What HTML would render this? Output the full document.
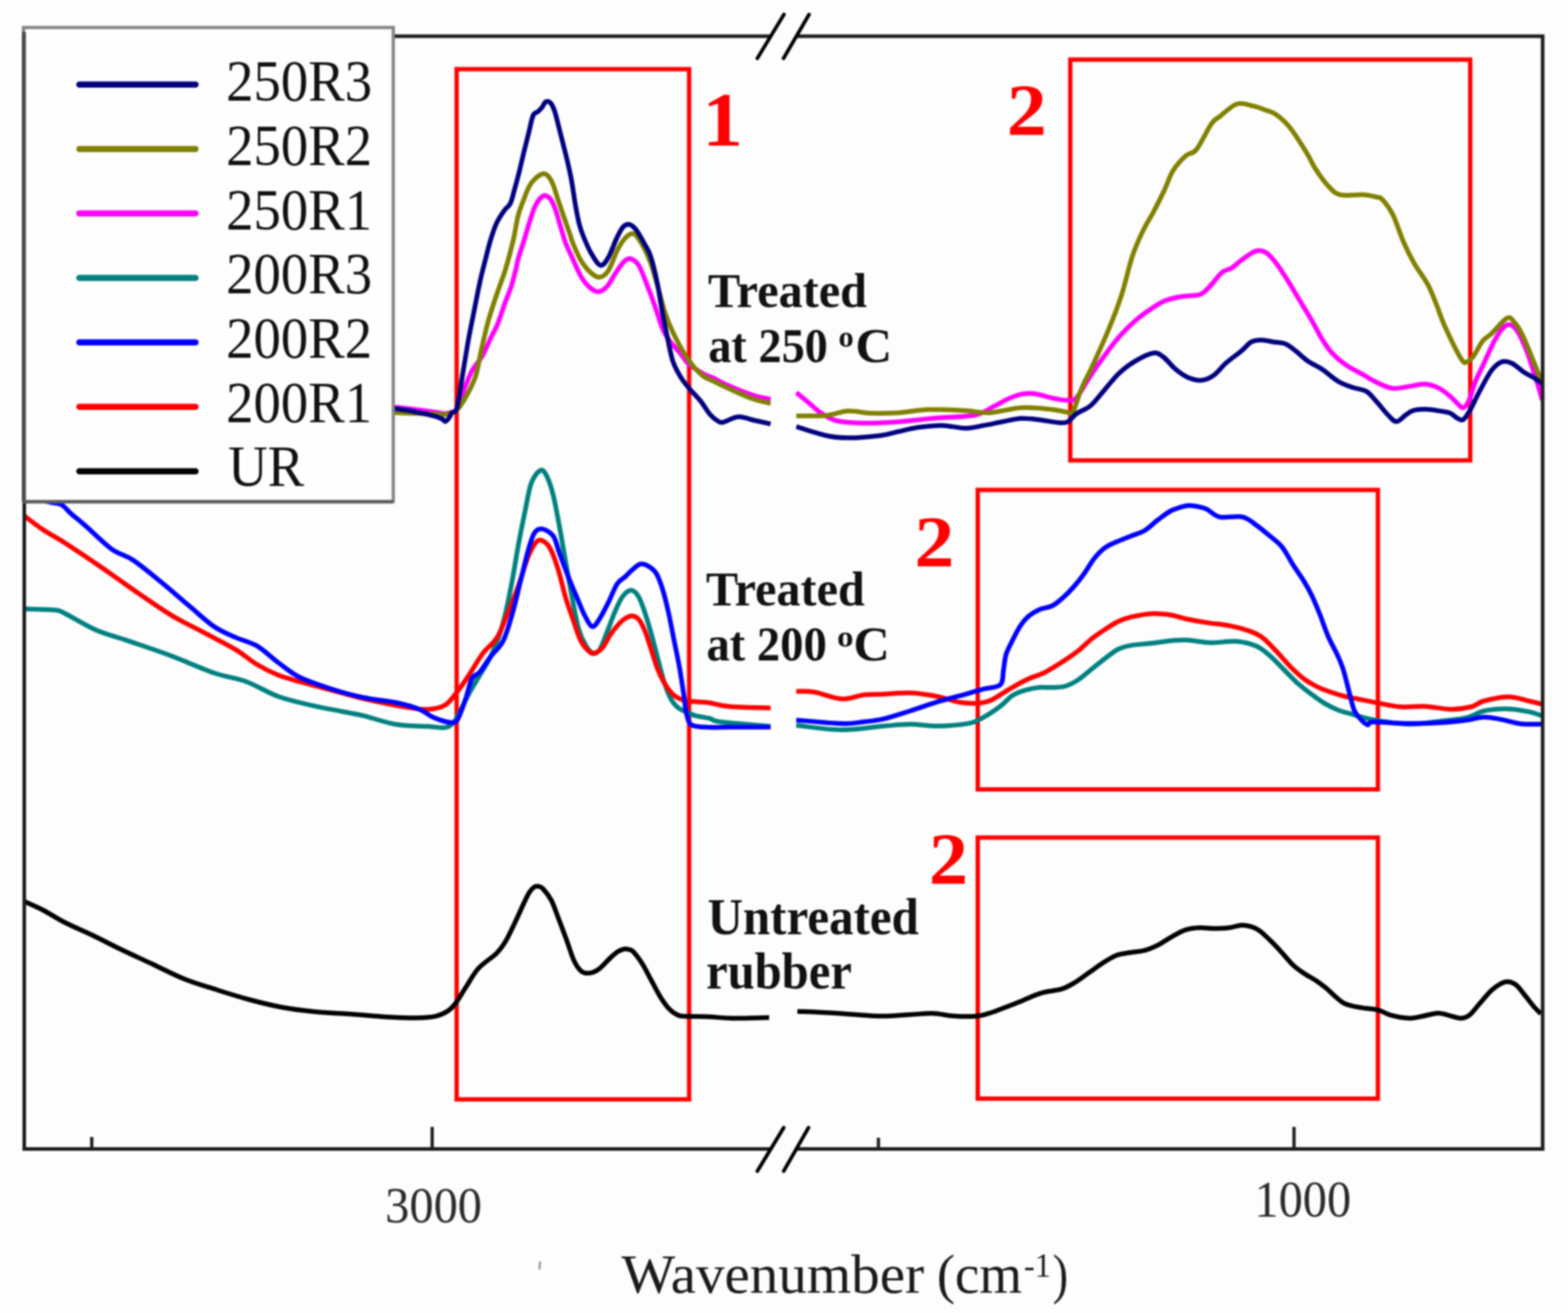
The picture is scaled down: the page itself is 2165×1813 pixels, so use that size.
<!DOCTYPE html>
<html><head><meta charset="utf-8"><title>FTIR spectra</title>
<style>
html,body{margin:0;padding:0;background:#fff;}
body{width:2165px;height:1813px;overflow:hidden;}
svg{display:block;filter:blur(0.9px);}
text{font-family:"Liberation Serif","DejaVu Serif",serif;}
</style></head><body>
<svg width="2165" height="1813" viewBox="0 0 2165 1813">
<rect x="0" y="0" width="2165" height="1813" fill="#fdfdfd"/>
<g fill="none" stroke="#ff0000" stroke-width="6">
<rect x="630.5" y="95.5" width="321" height="1422.5"/>
<rect x="1477.8" y="82.3" width="552.2" height="553.4"/>
<rect x="1350" y="676.5" width="552.5" height="413.5"/>
<rect x="1350" y="1156.5" width="552.5" height="360.5"/>
</g>
<path d="M34.0,1245.0 C38.3,1247.0 50.7,1252.2 60.0,1257.0 C69.3,1261.8 78.5,1268.2 90.0,1274.0 C101.5,1279.8 116.5,1286.0 129.0,1292.0 C141.5,1298.0 151.5,1303.5 165.0,1310.0 C178.5,1316.5 195.0,1324.0 210.0,1331.0 C225.0,1338.0 240.0,1346.0 255.0,1352.0 C270.0,1358.0 285.0,1362.2 300.0,1367.0 C315.0,1371.8 330.0,1376.5 345.0,1380.5 C360.0,1384.5 375.0,1388.2 390.0,1391.0 C405.0,1393.8 420.0,1395.5 435.0,1397.0 C450.0,1398.5 462.5,1398.8 480.0,1400.0 C497.5,1401.2 524.2,1403.6 540.0,1404.5 C555.8,1405.4 564.7,1405.7 575.0,1405.5 C585.3,1405.3 594.6,1404.7 601.9,1403.1 C609.2,1401.5 614.2,1398.8 618.7,1395.8 C623.2,1392.8 624.9,1390.9 629.1,1385.3 C633.3,1379.7 638.5,1370.3 643.8,1362.3 C649.0,1354.3 653.6,1344.8 660.6,1337.1 C667.6,1329.4 679.4,1322.5 685.7,1316.2 C692.0,1309.9 694.1,1306.4 698.3,1299.4 C702.5,1292.4 706.6,1283.0 710.8,1274.3 C715.0,1265.6 720.0,1254.0 723.4,1247.0 C726.8,1240.0 728.5,1235.8 731.0,1232.0 C733.5,1228.2 735.9,1225.8 738.1,1224.5 C740.3,1223.2 742.0,1223.5 744.0,1224.0 C746.0,1224.5 747.1,1224.3 750.0,1227.5 C752.9,1230.7 757.9,1236.9 761.1,1242.9 C764.4,1249.0 766.0,1254.7 769.5,1263.8 C773.0,1272.9 778.2,1286.8 782.1,1297.3 C786.0,1307.8 789.1,1319.4 792.6,1326.7 C796.1,1334.0 799.2,1338.5 803.0,1341.3 C806.8,1344.1 811.4,1344.1 815.6,1343.4 C819.8,1342.7 823.7,1340.6 828.2,1337.1 C832.7,1333.6 838.7,1326.3 842.8,1322.5 C846.9,1318.7 849.9,1316.0 853.0,1314.0 C856.1,1312.0 859.2,1311.0 861.7,1310.5 C864.2,1310.0 865.9,1310.4 868.0,1311.0 C870.1,1311.6 871.2,1310.8 874.3,1314.1 C877.4,1317.4 882.6,1324.2 886.8,1330.8 C891.0,1337.4 895.2,1346.2 899.4,1353.9 C903.6,1361.6 907.8,1370.3 912.0,1376.9 C916.2,1383.5 920.4,1389.5 924.6,1393.7 C928.8,1397.9 932.9,1400.5 937.1,1402.1 C941.3,1403.7 942.6,1403.1 949.7,1403.4 C956.9,1403.7 969.8,1403.5 980.0,1404.0 C990.2,1404.5 997.3,1405.9 1011.0,1406.1 C1024.7,1406.3 1053.5,1405.2 1062.0,1405.0" stroke="#000000" stroke-width="6.5" fill="none" stroke-linejoin="round" stroke-linecap="butt"/>
<path d="M1101.0,1396.4 C1109.9,1396.8 1135.2,1397.8 1154.3,1398.9 C1173.4,1400.0 1198.7,1402.7 1215.7,1403.0 C1232.8,1403.3 1244.6,1401.6 1256.6,1401.0 C1268.5,1400.4 1277.2,1399.0 1287.4,1399.3 C1297.7,1399.6 1307.9,1402.4 1318.1,1403.0 C1328.3,1403.6 1340.3,1403.8 1348.8,1403.0 C1357.3,1402.2 1364.1,1399.5 1369.3,1398.0 C1374.5,1396.5 1373.5,1396.5 1380.0,1394.0 C1386.5,1391.5 1399.1,1386.7 1408.6,1382.9 C1418.1,1379.1 1427.6,1374.3 1437.1,1371.4 C1446.6,1368.5 1457.8,1368.2 1465.7,1365.7 C1473.7,1363.2 1478.5,1360.0 1484.8,1356.2 C1491.1,1352.4 1497.4,1347.4 1503.8,1342.9 C1510.2,1338.5 1516.6,1333.5 1522.9,1329.5 C1529.2,1325.5 1535.6,1321.4 1541.9,1319.0 C1548.2,1316.6 1554.7,1316.3 1561.0,1315.2 C1567.3,1314.1 1573.7,1314.1 1580.0,1312.4 C1586.3,1310.7 1592.7,1308.0 1599.0,1304.8 C1605.3,1301.6 1611.8,1296.8 1618.1,1293.3 C1624.4,1289.8 1630.8,1285.8 1637.1,1283.8 C1643.4,1281.8 1649.8,1281.3 1656.2,1281.0 C1662.6,1280.7 1668.4,1281.9 1675.2,1281.9 C1682.0,1281.9 1690.6,1281.7 1697.1,1280.9 C1703.6,1280.2 1709.1,1277.6 1714.3,1277.4 C1719.5,1277.2 1723.8,1278.4 1728.0,1279.7 C1732.2,1281.0 1735.6,1282.7 1739.4,1285.4 C1743.2,1288.1 1747.1,1292.1 1750.9,1295.7 C1754.7,1299.3 1758.5,1303.1 1762.3,1307.1 C1766.1,1311.1 1769.9,1315.5 1773.7,1319.7 C1777.5,1323.9 1780.7,1328.3 1785.1,1332.3 C1789.5,1336.3 1794.7,1340.1 1800.0,1343.7 C1805.3,1347.3 1811.9,1350.6 1817.1,1354.0 C1822.2,1357.4 1826.5,1360.7 1830.9,1364.3 C1835.3,1367.9 1839.4,1372.3 1843.4,1375.7 C1847.4,1379.1 1850.7,1382.6 1854.9,1384.9 C1859.1,1387.2 1863.5,1388.2 1868.6,1389.4 C1873.7,1390.6 1880.0,1391.4 1885.7,1392.3 C1891.4,1393.2 1897.2,1393.0 1902.9,1394.6 C1908.6,1396.1 1912.6,1399.7 1919.8,1401.6 C1927.0,1403.5 1938.9,1405.7 1946.2,1406.0 C1953.5,1406.3 1957.3,1404.5 1963.8,1403.3 C1970.2,1402.1 1979.0,1399.2 1984.9,1398.9 C1990.8,1398.6 1993.7,1400.4 1999.0,1401.6 C2004.3,1402.8 2011.6,1406.0 2016.6,1406.0 C2021.6,1406.0 2024.6,1405.0 2029.0,1401.6 C2033.4,1398.2 2037.8,1391.6 2043.1,1385.7 C2048.4,1379.8 2054.8,1371.3 2060.7,1366.3 C2066.6,1361.3 2073.0,1357.0 2078.3,1355.8 C2083.6,1354.6 2088.0,1356.4 2092.4,1359.3 C2096.8,1362.2 2100.3,1368.1 2104.7,1373.4 C2109.1,1378.7 2115.0,1386.6 2118.8,1391.0 C2122.6,1395.4 2126.1,1398.3 2127.6,1399.8" stroke="#000000" stroke-width="6.5" fill="none" stroke-linejoin="round" stroke-linecap="butt"/>

<path d="M34.0,840.8 C40.7,841.0 65.1,841.2 74.3,842.2 C83.5,843.2 79.2,842.0 89.0,846.7 C98.8,851.4 118.5,863.9 133.3,870.3 C148.1,876.7 160.4,879.2 177.6,885.1 C194.8,891.0 217.0,898.3 236.7,905.7 C256.4,913.1 278.5,923.4 295.7,929.3 C312.9,935.2 325.2,935.8 340.0,941.2 C354.8,946.6 369.5,956.4 384.3,961.8 C399.1,967.2 413.8,970.1 428.6,973.6 C443.4,977.1 460.6,980.0 472.9,982.5 C485.2,985.0 490.1,985.4 502.4,988.4 C514.7,991.4 531.9,997.8 546.7,1000.2 C561.5,1002.7 579.7,1002.4 591.0,1003.1 C602.3,1003.8 608.8,1005.5 614.6,1004.6 C620.4,1003.8 622.7,1001.4 626.0,998.0 C629.3,994.6 630.8,990.6 634.3,984.0 C637.8,977.4 642.6,966.9 647.3,958.3 C652.0,949.7 657.4,941.0 662.4,932.4 C667.4,923.8 672.8,916.2 677.5,906.5 C682.2,896.8 686.9,884.9 690.5,874.1 C694.1,863.3 696.2,854.3 699.1,841.7 C702.0,829.1 704.9,814.0 707.8,798.5 C710.7,783.0 713.5,764.3 716.4,748.8 C719.3,733.3 722.1,719.3 725.0,705.6 C727.9,691.9 730.1,676.1 733.7,666.7 C737.3,657.3 743.0,650.8 746.6,649.4 C750.2,648.0 752.4,652.3 755.3,658.1 C758.2,663.9 761.0,672.5 763.9,684.0 C766.8,695.5 769.6,711.7 772.5,727.2 C775.4,742.7 778.3,760.7 781.2,776.9 C784.1,793.1 786.8,809.2 789.8,824.4 C792.8,839.6 795.7,857.0 798.9,868.3 C802.1,879.6 805.8,886.3 809.2,892.0 C812.7,897.7 816.4,901.6 819.6,902.3 C822.8,903.0 825.2,901.6 828.4,896.4 C831.6,891.2 835.3,879.8 838.8,871.2 C842.2,862.6 845.6,852.5 849.1,844.6 C852.6,836.7 855.8,828.8 859.5,823.9 C863.2,819.0 867.6,815.1 871.3,815.1 C875.0,815.1 878.5,818.7 881.7,823.9 C884.9,829.1 887.5,837.5 890.5,846.1 C893.5,854.7 896.4,865.1 899.4,875.7 C902.4,886.3 905.3,898.6 908.3,909.7 C911.3,920.8 914.2,933.1 917.2,942.2 C920.2,951.3 923.0,958.7 926.0,964.4 C929.0,970.1 931.7,973.2 934.9,976.2 C938.1,979.2 941.1,980.1 945.3,982.1 C949.5,984.1 954.2,986.5 960.0,988.1 C965.8,989.8 974.2,990.6 980.0,992.0 C985.8,993.4 980.8,994.9 994.8,996.7 C1008.8,998.5 1052.5,1001.9 1064.0,1002.9" stroke="#008080" stroke-width="6.5" fill="none" stroke-linejoin="round" stroke-linecap="butt"/>
<path d="M1099.4,1001.6 C1109.8,1002.6 1141.8,1007.6 1161.9,1007.8 C1182.0,1008.0 1204.1,1003.9 1220.0,1002.6 C1235.9,1001.3 1244.7,1000.1 1257.1,1000.1 C1269.5,1000.1 1280.9,1002.8 1294.3,1002.6 C1307.7,1002.4 1327.3,1000.8 1337.6,998.9 C1347.9,997.0 1349.0,995.3 1356.2,991.4 C1363.4,987.5 1374.0,980.5 1381.0,975.3 C1388.0,970.1 1392.3,963.9 1398.2,960.2 C1404.1,956.5 1410.3,954.7 1416.4,952.9 C1422.5,951.1 1428.5,949.9 1434.6,949.3 C1440.7,948.7 1446.7,949.6 1452.8,949.3 C1458.9,949.0 1464.9,949.3 1471.0,947.5 C1477.1,945.7 1483.1,942.4 1489.2,938.4 C1495.3,934.4 1501.3,928.6 1507.4,923.8 C1513.5,918.9 1519.5,913.8 1525.6,909.3 C1531.7,904.8 1537.8,899.5 1543.8,896.5 C1549.8,893.5 1554.3,892.5 1561.9,891.1 C1569.5,889.7 1580.1,889.4 1589.2,888.3 C1598.3,887.2 1608.3,885.5 1616.5,884.7 C1624.7,884.0 1629.1,883.3 1638.4,883.8 C1647.7,884.2 1661.2,887.1 1672.5,887.4 C1683.8,887.7 1696.0,884.7 1706.3,885.5 C1716.6,886.3 1726.6,888.7 1734.4,892.0 C1742.2,895.3 1746.9,899.9 1753.2,905.2 C1759.5,910.5 1765.8,917.6 1772.0,923.9 C1778.2,930.1 1784.5,937.1 1790.7,942.7 C1797.0,948.3 1803.2,953.0 1809.5,957.7 C1815.8,962.4 1822.0,967.1 1828.3,970.9 C1834.5,974.6 1840.8,977.7 1847.0,980.2 C1853.2,982.7 1858.0,983.7 1865.8,985.9 C1873.6,988.1 1880.7,991.0 1894.0,993.4 C1907.3,995.8 1929.5,999.7 1945.7,1000.0 C1961.9,1000.3 1978.1,996.9 1991.4,995.4 C2004.7,993.9 2016.2,993.2 2025.7,990.9 C2035.2,988.6 2039.1,983.7 2048.6,981.7 C2058.1,979.7 2072.4,978.7 2082.9,978.9 C2093.4,979.1 2103.6,981.3 2111.4,982.9 C2119.2,984.5 2126.6,987.6 2129.7,988.6" stroke="#008080" stroke-width="6.5" fill="none" stroke-linejoin="round" stroke-linecap="butt"/>

<path d="M34.0,712.5 C38.2,715.7 50.3,725.4 59.5,731.5 C68.7,737.6 76.7,741.3 89.0,749.2 C101.3,757.1 121.0,770.4 133.3,778.8 C145.6,787.2 153.1,792.5 162.9,799.4 C172.8,806.3 180.1,811.7 192.4,820.1 C204.7,828.5 221.9,840.8 236.7,849.6 C251.5,858.5 266.2,865.3 281.0,873.2 C295.8,881.1 312.9,889.5 325.2,896.9 C337.5,904.3 344.9,911.6 354.8,917.5 C364.7,923.4 374.5,928.3 384.3,932.3 C394.1,936.2 401.5,937.8 413.8,941.2 C426.1,944.7 443.3,949.1 458.1,953.0 C472.9,956.9 485.2,960.9 502.4,964.8 C519.6,968.7 546.6,974.1 561.4,976.6 C576.2,979.1 582.1,980.0 591.0,979.5 C599.9,979.0 607.7,977.9 614.6,973.6 C621.5,969.4 626.8,960.9 632.2,954.0 C637.7,947.1 641.5,941.0 647.3,932.4 C653.0,923.8 660.2,910.8 666.7,902.1 C673.2,893.5 680.4,889.9 686.2,880.5 C692.0,871.1 696.3,858.2 701.3,846.0 C706.3,833.8 711.7,820.1 716.4,807.1 C721.1,794.1 725.4,777.9 729.4,768.2 C733.4,758.5 737.0,752.4 740.2,748.8 C743.4,745.2 745.6,745.2 748.8,746.6 C752.0,748.0 756.0,750.9 759.6,757.4 C763.2,763.9 766.8,774.1 770.4,785.5 C774.0,796.9 777.9,814.9 781.2,826.0 C784.5,837.1 786.6,842.3 790.0,852.0 C793.4,861.7 797.7,876.2 801.5,884.0 C805.3,891.8 809.7,896.0 812.8,899.0 C815.9,902.0 816.9,902.7 820.0,902.0 C823.1,901.3 827.5,899.3 831.4,894.9 C835.3,890.5 839.2,881.4 843.2,875.7 C847.2,870.0 851.7,864.6 855.1,860.9 C858.5,857.2 861.0,855.2 863.9,853.5 C866.8,851.8 869.8,850.2 872.8,850.5 C875.8,850.8 878.8,851.5 881.7,855.0 C884.7,858.5 887.5,864.1 890.5,871.2 C893.5,878.4 896.4,889.0 899.4,897.9 C902.4,906.8 905.1,916.6 908.3,924.5 C911.5,932.4 914.9,939.3 918.6,945.2 C922.3,951.1 926.0,956.3 930.5,960.0 C935.0,963.7 940.4,965.9 945.3,967.4 C950.2,968.9 954.2,968.3 960.0,968.8 C965.8,969.3 972.1,969.4 980.0,970.5 C987.9,971.6 993.1,974.4 1007.1,975.6 C1021.1,976.8 1054.5,977.2 1064.0,977.5" stroke="#ff0000" stroke-width="6.5" fill="none" stroke-linejoin="round" stroke-linecap="butt"/>
<path d="M1099.4,954.6 C1103.6,954.8 1114.4,954.0 1124.8,955.8 C1135.2,957.5 1150.6,964.5 1161.9,965.1 C1173.2,965.7 1183.2,960.6 1192.9,959.5 C1202.6,958.4 1209.3,959.0 1220.0,958.5 C1230.7,958.0 1244.7,956.3 1257.1,956.8 C1269.5,957.3 1282.9,959.5 1294.3,961.7 C1305.7,963.9 1315.9,968.2 1325.2,969.8 C1334.5,971.3 1342.8,971.5 1350.0,971.0 C1357.2,970.5 1361.4,969.9 1368.6,966.7 C1375.8,963.5 1385.0,956.5 1393.3,951.8 C1401.5,947.0 1409.8,942.1 1418.1,938.2 C1426.4,934.3 1434.7,932.4 1442.9,928.3 C1451.2,924.2 1459.9,918.4 1467.6,913.4 C1475.3,908.4 1482.6,903.5 1489.2,898.3 C1495.8,893.1 1501.3,886.9 1507.4,882.0 C1513.5,877.1 1519.5,873.2 1525.6,869.2 C1531.7,865.2 1537.8,861.2 1543.8,858.3 C1549.8,855.4 1554.3,853.7 1561.9,851.9 C1569.5,850.1 1580.1,847.8 1589.2,847.4 C1598.3,847.0 1608.3,848.0 1616.5,849.2 C1624.7,850.4 1629.7,852.9 1638.4,854.7 C1647.1,856.5 1659.0,858.6 1668.8,860.1 C1678.5,861.6 1687.5,862.0 1696.9,863.9 C1706.3,865.8 1717.3,868.6 1725.1,871.4 C1732.9,874.2 1737.5,876.1 1743.8,880.8 C1750.0,885.5 1756.3,893.0 1762.6,899.6 C1768.9,906.2 1775.2,914.0 1781.4,920.2 C1787.7,926.5 1793.8,932.4 1800.1,937.1 C1806.3,941.8 1812.6,945.2 1818.9,948.3 C1825.2,951.4 1831.5,953.6 1837.7,955.8 C1844.0,958.0 1850.2,959.9 1856.4,961.5 C1862.7,963.1 1867.4,963.6 1875.2,965.2 C1883.0,966.8 1893.5,969.1 1903.3,970.9 C1913.1,972.7 1923.4,975.2 1934.3,976.0 C1945.2,976.8 1957.2,974.8 1968.6,975.4 C1980.0,976.0 1992.4,979.3 2002.9,979.4 C2013.4,979.5 2023.8,977.9 2031.4,976.0 C2039.0,974.1 2040.0,970.3 2048.6,968.0 C2057.2,965.7 2072.4,962.3 2082.9,962.3 C2093.4,962.3 2103.6,966.3 2111.4,968.0 C2119.2,969.7 2126.6,971.8 2129.7,972.6" stroke="#ff0000" stroke-width="6.5" fill="none" stroke-linejoin="round" stroke-linecap="butt"/>

<path d="M34.0,668.0 C37.5,671.3 49.2,683.8 55.0,688.0 C60.8,692.2 63.9,692.0 68.9,693.5 C73.9,695.0 80.0,694.3 84.9,697.0 C89.9,699.7 93.0,704.8 98.6,709.7 C104.2,714.6 109.4,718.4 118.6,726.5 C127.8,734.6 143.2,750.3 154.0,758.1 C164.8,765.9 172.2,765.8 183.5,773.3 C194.8,780.8 209.1,792.9 221.9,803.3 C234.7,813.7 248.0,825.5 260.3,835.8 C272.6,846.1 284.9,857.9 295.7,865.3 C306.5,872.7 315.3,875.7 325.2,880.1 C335.1,884.5 344.9,886.1 354.8,891.9 C364.7,897.7 374.5,907.8 384.3,915.0 C394.1,922.2 401.5,929.1 413.8,935.2 C426.1,941.3 443.3,946.8 458.1,951.5 C472.9,956.2 487.1,960.1 502.4,963.3 C517.6,966.5 536.8,968.0 549.6,970.7 C562.4,973.4 571.3,976.3 579.2,979.5 C587.1,982.7 591.4,987.2 596.9,989.9 C602.4,992.6 607.4,994.2 612.0,995.5 C616.6,996.8 621.0,998.0 624.4,997.6 C627.8,997.2 629.1,998.4 632.2,992.9 C635.3,987.4 639.8,974.2 643.0,964.8 C646.2,955.4 648.4,942.8 651.6,936.7 C654.8,930.6 658.1,933.1 662.4,928.1 C666.7,923.1 672.1,913.7 677.5,906.5 C682.9,899.3 689.8,895.0 694.8,884.9 C699.8,874.8 703.8,859.7 707.8,846.0 C711.8,832.3 715.0,817.2 718.6,802.8 C722.2,788.4 726.2,770.8 729.4,759.6 C732.6,748.4 734.8,740.7 738.0,735.8 C741.2,730.9 744.5,729.7 748.8,730.4 C753.1,731.1 759.9,734.6 763.9,740.2 C767.9,745.8 768.9,754.2 772.5,763.9 C776.1,773.6 781.4,788.0 785.5,798.5 C789.6,809.0 793.7,818.2 797.4,826.9 C801.1,835.6 804.2,844.1 807.7,850.5 C811.2,856.9 814.7,864.8 818.1,865.3 C821.5,865.8 824.7,859.2 828.4,853.5 C832.1,847.8 836.3,839.2 840.3,831.3 C844.2,823.4 848.2,812.1 852.1,806.2 C856.0,800.3 860.5,799.0 863.9,795.8 C867.3,792.6 869.3,789.8 872.8,787.0 C876.2,784.2 880.6,779.5 884.6,778.8 C888.6,778.0 892.8,780.1 896.5,782.5 C900.2,784.9 903.6,787.2 906.8,792.9 C910.0,798.6 913.0,807.6 915.7,816.5 C918.4,825.4 920.6,835.0 923.1,846.1 C925.6,857.2 928.0,870.8 930.5,883.1 C933.0,895.4 935.7,907.7 937.9,920.0 C940.1,932.3 942.1,945.9 943.8,957.0 C945.5,968.1 946.2,979.2 948.2,986.6 C950.2,994.0 950.3,998.5 955.6,1001.4 C960.9,1004.3 971.4,1003.8 980.0,1004.3 C988.6,1004.8 993.1,1004.1 1007.1,1004.1 C1021.1,1004.1 1054.5,1004.1 1064.0,1004.1" stroke="#0000ff" stroke-width="6.5" fill="none" stroke-linejoin="round" stroke-linecap="butt"/>
<path d="M1099.4,994.2 C1109.8,995.0 1146.3,998.7 1161.9,999.1 C1177.5,999.5 1183.2,997.8 1192.9,996.7 C1202.6,995.6 1209.3,995.2 1220.0,992.7 C1230.7,990.2 1244.7,985.4 1257.1,981.5 C1269.5,977.6 1281.9,972.8 1294.3,969.1 C1306.7,965.4 1321.1,962.1 1331.4,959.2 C1341.7,956.3 1347.9,954.1 1356.2,951.8 C1364.5,949.5 1376.1,950.0 1381.0,945.6 C1385.9,941.2 1384.2,932.6 1385.5,925.6 C1386.8,918.6 1387.0,910.8 1389.1,903.8 C1391.2,896.8 1394.9,890.5 1398.2,883.8 C1401.5,877.1 1405.5,869.3 1409.1,863.8 C1412.7,858.3 1415.8,854.6 1420.0,851.0 C1424.2,847.4 1429.1,844.3 1434.6,841.9 C1440.1,839.5 1447.3,839.2 1452.8,836.5 C1458.2,833.8 1462.4,829.9 1467.3,825.6 C1472.2,821.4 1477.1,816.5 1481.9,811.0 C1486.8,805.5 1491.6,799.5 1496.4,792.8 C1501.2,786.1 1506.1,777.1 1511.0,771.0 C1515.9,764.9 1520.1,760.4 1525.6,756.4 C1531.1,752.4 1537.8,750.0 1543.8,747.3 C1549.8,744.6 1555.9,742.4 1561.9,740.0 C1568.0,737.6 1574.0,736.4 1580.1,732.8 C1586.2,729.2 1592.2,722.8 1598.3,718.2 C1604.4,713.7 1610.4,708.7 1616.5,705.5 C1622.6,702.3 1629.9,700.3 1634.7,699.1 C1639.5,697.9 1640.5,697.6 1645.6,698.2 C1650.6,698.8 1658.6,699.9 1665.0,702.5 C1671.4,705.1 1675.3,711.9 1683.8,713.8 C1692.2,715.7 1707.3,711.9 1715.7,713.8 C1724.1,715.7 1728.2,720.6 1734.4,725.0 C1740.7,729.4 1747.2,735.0 1753.2,740.0 C1759.2,745.0 1764.8,748.5 1770.1,755.1 C1775.4,761.7 1780.1,771.7 1785.1,779.5 C1790.1,787.3 1795.7,794.8 1800.1,802.0 C1804.5,809.2 1807.7,814.8 1811.4,822.6 C1815.2,830.4 1818.8,839.5 1822.6,848.9 C1826.3,858.3 1829.8,869.5 1833.9,878.9 C1838.0,888.3 1843.6,897.7 1847.0,905.2 C1850.4,912.7 1852.0,916.2 1854.5,924.0 C1857.0,931.8 1859.5,942.7 1862.0,952.1 C1864.5,961.5 1866.8,973.3 1869.6,980.2 C1872.4,987.1 1875.8,990.0 1878.9,993.4 C1882.0,996.8 1885.5,1000.3 1888.3,1000.9 C1891.1,1001.5 1886.2,997.4 1895.8,997.1 C1905.4,996.8 1929.8,998.8 1945.7,998.9 C1961.6,999.0 1978.1,998.5 1991.4,997.7 C2004.7,996.9 2016.2,995.5 2025.7,994.3 C2035.2,993.1 2041.0,990.5 2048.6,990.3 C2056.2,990.1 2062.8,991.6 2071.4,993.1 C2080.0,994.6 2090.3,998.2 2100.0,999.4 C2109.7,1000.5 2124.8,999.9 2129.7,1000.0" stroke="#0000ff" stroke-width="6.5" fill="none" stroke-linejoin="round" stroke-linecap="butt"/>

<path d="M543.0,562.0 C547.5,562.5 560.5,563.8 570.0,565.0 C579.5,566.2 593.0,568.0 600.0,569.0 C607.0,570.0 608.7,570.8 612.0,571.0 C615.3,571.2 616.8,571.0 620.0,570.0 C623.2,569.0 627.7,570.0 631.0,565.0 C634.3,560.0 636.5,548.9 640.0,540.0 C643.5,531.1 647.4,520.0 651.8,511.9 C656.2,503.8 662.0,498.6 666.2,491.2 C670.5,483.8 673.9,474.5 677.3,467.3 C680.7,460.1 683.3,456.7 686.8,448.2 C690.2,439.7 694.8,425.1 698.0,416.4 C701.2,407.6 703.5,403.1 705.9,395.7 C708.3,388.3 710.7,378.2 712.3,371.8 C713.9,365.4 713.6,364.1 715.5,357.4 C717.4,350.7 721.0,340.4 723.7,331.5 C726.4,322.6 729.4,311.9 731.9,304.2 C734.4,296.4 736.4,290.0 738.7,285.0 C741.0,280.0 743.2,276.7 745.5,274.2 C747.8,271.7 749.8,269.8 752.3,270.0 C754.8,270.2 758.0,272.1 760.5,275.5 C763.0,278.9 765.0,284.1 767.3,290.5 C769.6,296.9 771.9,306.2 774.2,313.7 C776.5,321.2 778.5,328.9 781.0,335.6 C783.5,342.3 785.6,346.1 789.1,353.7 C792.6,361.3 797.8,374.0 801.8,381.0 C805.8,388.0 808.8,391.9 812.8,395.5 C816.8,399.1 821.3,402.8 825.5,402.8 C829.7,402.8 834.0,400.1 838.2,395.5 C842.5,390.9 847.0,381.2 851.0,375.5 C855.0,369.8 858.6,364.0 861.9,361.0 C865.2,358.0 867.7,356.4 871.0,357.3 C874.3,358.2 878.3,360.6 881.9,366.4 C885.5,372.2 889.2,382.8 892.8,391.9 C896.4,401.0 900.1,410.7 903.7,421.0 C907.4,431.3 911.1,445.3 914.7,453.8 C918.4,462.3 921.7,466.6 925.6,472.0 C929.5,477.4 934.0,481.4 938.3,486.5 C942.5,491.6 945.6,498.0 951.1,502.9 C956.6,507.8 965.4,512.8 971.0,516.0 C976.6,519.2 979.4,519.3 985.0,522.0 C990.6,524.7 995.7,528.1 1004.8,532.0 C1013.9,535.9 1029.5,542.4 1039.4,545.6 C1049.3,548.9 1059.9,550.5 1064.0,551.5" stroke="#ff00ff" stroke-width="6.5" fill="none" stroke-linejoin="round" stroke-linecap="butt"/>
<path d="M1099.5,542.1 C1102.3,544.4 1110.7,551.2 1116.2,555.7 C1121.7,560.2 1126.1,565.2 1132.3,569.3 C1138.5,573.4 1143.6,578.0 1153.3,580.5 C1163.0,583.0 1176.0,583.9 1190.5,584.2 C1205.0,584.5 1222.7,583.7 1240.0,582.5 C1257.3,581.3 1276.7,578.6 1294.3,577.1 C1311.9,575.6 1332.8,575.9 1345.7,573.3 C1358.6,570.7 1363.9,565.4 1371.4,561.7 C1378.9,558.1 1384.3,554.3 1390.7,551.4 C1397.1,548.5 1403.6,545.7 1410.0,544.4 C1416.4,543.1 1421.8,542.8 1429.3,543.7 C1436.8,544.7 1447.5,548.6 1455.0,550.1 C1462.5,551.6 1469.0,552.9 1474.3,552.7 C1479.6,552.5 1481.4,554.5 1486.7,548.7 C1492.0,542.9 1499.7,527.8 1506.2,518.1 C1512.7,508.4 1519.2,499.1 1525.7,490.3 C1532.2,481.5 1538.2,473.1 1545.2,465.2 C1552.2,457.3 1560.0,449.4 1567.4,442.9 C1574.8,436.4 1582.7,430.8 1589.7,426.2 C1596.7,421.6 1602.2,417.9 1609.2,415.1 C1616.2,412.3 1623.6,410.9 1631.5,409.5 C1639.4,408.1 1650.0,409.1 1656.5,406.8 C1663.0,404.5 1665.3,400.7 1670.4,395.6 C1675.5,390.5 1682.3,380.3 1687.2,376.1 C1692.1,371.9 1695.5,373.4 1700.0,370.6 C1704.5,367.8 1708.3,363.3 1713.9,359.4 C1719.5,355.4 1727.8,348.8 1733.4,346.9 C1739.0,345.0 1742.7,345.8 1747.3,348.3 C1751.9,350.9 1756.1,355.7 1761.2,362.2 C1766.3,368.7 1772.4,378.5 1778.0,387.3 C1783.6,396.1 1789.1,405.8 1794.7,415.1 C1800.3,424.4 1806.3,434.1 1811.4,442.9 C1816.5,451.7 1820.7,460.6 1825.3,468.0 C1829.9,475.4 1833.6,481.5 1839.2,487.5 C1844.8,493.5 1851.7,499.3 1858.7,504.2 C1865.7,509.1 1874.0,512.8 1881.0,516.7 C1888.0,520.6 1893.5,524.5 1900.4,527.8 C1907.4,531.0 1915.0,535.3 1922.7,536.2 C1930.4,537.1 1939.2,534.4 1946.6,533.4 C1954.0,532.4 1960.6,530.0 1967.1,530.3 C1973.6,530.6 1979.7,532.7 1985.5,535.4 C1991.3,538.1 1997.4,543.1 2001.8,546.7 C2006.2,550.3 2009.0,554.2 2012.1,556.9 C2015.2,559.6 2017.6,563.7 2020.3,563.0 C2023.0,562.3 2025.7,558.6 2028.4,552.8 C2031.1,547.0 2033.2,536.8 2036.6,528.3 C2040.0,519.8 2044.5,511.2 2048.9,501.7 C2053.3,492.1 2058.8,479.2 2063.2,471.0 C2067.6,462.8 2071.8,456.4 2075.5,452.6 C2079.2,448.9 2082.3,447.5 2085.7,448.5 C2089.1,449.5 2092.2,452.6 2096.0,458.7 C2099.8,464.8 2104.1,474.7 2108.2,485.3 C2112.3,495.9 2116.9,510.9 2120.5,522.1 C2124.1,533.4 2128.2,547.7 2129.7,552.8" stroke="#ff00ff" stroke-width="6.5" fill="none" stroke-linejoin="round" stroke-linecap="butt"/>

<path d="M543.0,569.8 C549.2,570.0 569.7,570.6 580.0,571.0 C590.3,571.4 599.7,571.7 605.0,572.0 C610.3,572.3 609.5,572.9 612.0,572.7 C614.5,572.5 616.8,572.1 620.0,571.0 C623.2,569.9 627.1,570.0 631.1,566.0 C635.1,562.0 639.6,554.6 643.9,546.9 C648.1,539.2 653.1,530.4 656.6,519.8 C660.1,509.2 661.7,495.9 664.6,483.2 C667.5,470.5 670.4,456.8 674.1,443.5 C677.8,430.2 682.8,415.6 686.8,403.7 C690.8,391.8 694.4,383.8 698.0,371.8 C701.6,359.8 705.8,343.9 708.7,331.5 C711.6,319.1 713.0,306.9 715.5,297.4 C718.0,287.8 721.2,280.8 723.7,274.2 C726.2,267.6 728.0,262.4 730.5,257.8 C733.0,253.2 735.5,249.9 738.7,246.9 C741.9,243.9 746.7,240.7 749.6,240.0 C752.5,239.3 754.1,240.5 756.4,242.8 C758.7,245.1 760.9,248.5 763.2,253.7 C765.5,258.9 767.7,267.4 770.0,274.2 C772.3,281.0 774.2,286.7 776.9,294.6 C779.6,302.6 784.1,315.1 786.4,321.9 C788.7,328.7 788.3,329.3 790.9,335.5 C793.5,341.7 797.8,352.5 801.8,359.2 C805.8,365.9 810.4,371.6 814.6,375.5 C818.9,379.4 823.1,383.1 827.3,382.8 C831.5,382.5 835.8,380.1 840.0,373.7 C844.2,367.3 848.8,352.2 852.8,344.6 C856.8,337.0 860.1,331.8 863.7,328.2 C867.3,324.6 871.0,321.6 874.6,322.8 C878.2,324.0 881.5,328.8 885.5,335.5 C889.5,342.2 894.3,352.2 898.3,362.8 C902.2,373.4 905.9,387.7 909.2,399.2 C912.5,410.7 915.0,422.0 918.3,432.0 C921.6,442.0 925.0,450.1 929.2,459.2 C933.5,468.3 939.2,478.9 943.8,486.5 C948.3,494.1 952.0,499.2 956.5,504.7 C961.0,510.2 966.2,515.6 971.1,519.3 C976.0,522.9 980.0,523.8 985.6,526.6 C991.2,529.4 995.8,531.9 1004.8,535.9 C1013.8,539.9 1029.5,547.3 1039.4,550.8 C1049.3,554.3 1059.9,556.0 1064.0,557.0" stroke="#808000" stroke-width="6.5" fill="none" stroke-linejoin="round" stroke-linecap="butt"/>
<path d="M1099.5,574.3 C1106.4,574.2 1129.1,574.8 1141.0,573.7 C1152.9,572.6 1160.4,568.0 1170.7,567.5 C1181.0,567.0 1191.4,570.2 1202.9,570.6 C1214.5,571.0 1226.9,570.8 1240.0,570.0 C1253.1,569.2 1265.9,566.1 1281.4,565.6 C1296.9,565.1 1319.0,566.2 1332.9,566.9 C1346.8,567.6 1352.2,570.6 1365.0,570.0 C1377.8,569.4 1396.1,563.8 1410.0,563.0 C1423.9,562.2 1437.9,563.9 1448.6,565.0 C1459.3,566.1 1468.9,568.4 1474.3,569.4 C1479.7,570.4 1479.5,571.9 1481.1,571.0 C1482.6,570.1 1481.4,569.8 1483.6,563.8 C1485.8,557.8 1490.0,544.4 1494.0,535.0 C1498.0,525.6 1501.1,521.1 1507.3,507.7 C1513.5,494.3 1524.0,471.2 1530.9,454.5 C1537.8,437.8 1543.2,423.9 1548.6,407.2 C1554.0,390.4 1558.5,368.8 1563.4,354.0 C1568.3,339.2 1573.3,328.9 1578.2,318.6 C1583.1,308.3 1588.1,301.4 1593.0,292.0 C1597.9,282.6 1603.3,271.9 1607.7,262.5 C1612.1,253.2 1614.6,243.8 1619.5,235.9 C1624.4,228.0 1631.8,220.1 1637.2,215.2 C1642.6,210.3 1646.1,213.8 1652.0,206.4 C1657.9,199.0 1667.3,178.5 1672.7,170.9 C1678.1,163.3 1678.6,165.2 1684.5,160.6 C1690.4,156.0 1700.3,145.9 1708.0,143.5 C1715.7,141.1 1724.0,145.0 1730.6,146.4 C1737.1,147.8 1742.2,150.1 1747.3,152.0 C1752.4,153.9 1755.6,153.7 1761.2,157.6 C1766.8,161.5 1773.7,167.1 1780.7,175.7 C1787.7,184.3 1797.0,199.4 1803.0,209.1 C1809.0,218.8 1811.8,226.2 1816.9,234.1 C1822.0,242.0 1828.0,250.6 1833.6,256.4 C1839.2,262.2 1841.9,266.8 1850.3,268.9 C1858.7,271.0 1875.4,268.4 1883.7,268.9 C1892.0,269.4 1895.9,270.9 1900.0,272.0 C1904.1,273.1 1904.6,271.1 1908.4,275.2 C1912.2,279.2 1918.2,286.5 1923.1,296.3 C1928.0,306.1 1933.0,322.9 1937.9,334.1 C1942.8,345.3 1947.0,353.8 1952.6,363.6 C1958.2,373.4 1966.2,383.2 1971.5,393.0 C1976.8,402.8 1980.2,412.9 1984.1,422.4 C1987.9,431.9 1989.0,437.5 1994.6,449.8 C2000.2,462.1 2012.5,487.8 2017.8,496.0 C2023.1,504.2 2023.4,499.8 2026.2,499.1 C2029.0,498.4 2031.1,496.6 2034.6,491.9 C2038.1,487.2 2043.0,476.1 2047.2,470.8 C2051.4,465.5 2054.2,465.6 2059.8,460.3 C2065.4,455.1 2075.6,441.8 2080.9,439.3 C2086.2,436.9 2087.6,441.1 2091.4,445.6 C2095.2,450.2 2097.6,452.5 2104.0,466.6 C2110.4,480.7 2125.4,519.4 2129.7,530.0" stroke="#808000" stroke-width="6.5" fill="none" stroke-linejoin="round" stroke-linecap="butt"/>

<path d="M543.0,564.0 C547.5,564.7 560.5,566.2 570.0,568.0 C579.5,569.8 593.2,572.8 600.0,574.6 C606.8,576.4 608.5,577.8 611.0,579.0 C613.5,580.2 613.5,582.3 615.0,582.0 C616.5,581.7 618.5,579.1 620.0,577.1 C621.5,575.1 622.1,572.4 624.0,570.0 C625.9,567.6 628.6,571.9 631.1,562.8 C633.6,553.6 636.4,531.0 639.1,515.1 C641.8,499.2 644.5,481.9 647.1,467.3 C649.8,452.7 652.4,440.8 655.0,427.5 C657.6,414.2 660.4,399.4 663.0,387.7 C665.6,376.0 668.1,366.8 670.5,357.4 C672.9,348.0 674.8,339.7 677.3,331.5 C679.8,323.3 682.3,315.1 685.5,308.3 C688.7,301.5 693.2,295.1 696.4,290.5 C699.6,285.9 702.3,285.6 704.6,281.0 C706.9,276.4 708.2,269.6 710.0,263.2 C711.8,256.8 713.2,251.9 715.5,242.8 C717.8,233.7 721.2,218.9 723.7,208.7 C726.2,198.5 728.5,189.6 730.5,181.4 C732.5,173.2 734.0,164.2 736.0,159.6 C738.0,155.0 740.8,155.9 742.8,154.1 C744.8,152.3 746.4,150.9 748.2,148.6 C750.0,146.3 751.7,141.5 753.7,140.5 C755.8,139.5 758.5,140.2 760.5,142.5 C762.5,144.8 764.2,148.8 766.0,154.1 C767.8,159.4 769.6,167.5 771.4,174.6 C773.2,181.7 774.8,188.2 776.9,196.4 C779.0,204.6 781.7,214.8 783.7,223.7 C785.8,232.6 787.4,239.6 789.2,249.6 C791.0,259.6 792.8,273.6 794.6,283.7 C796.4,293.8 798.2,302.9 800.0,310.0 C801.8,317.1 802.8,319.7 805.5,326.4 C808.2,333.1 812.5,343.3 816.4,350.0 C820.3,356.7 825.2,365.5 829.1,366.4 C833.0,367.3 836.4,361.6 840.0,355.5 C843.6,349.4 847.7,337.0 851.0,330.0 C854.3,323.0 857.0,317.0 860.0,313.7 C863.0,310.4 866.2,309.4 869.2,310.0 C872.2,310.6 875.0,313.1 878.3,317.3 C881.6,321.6 885.9,329.4 889.2,335.5 C892.5,341.6 895.3,344.6 898.3,353.7 C901.3,362.8 904.7,377.1 907.4,390.1 C910.1,403.2 912.3,419.0 914.7,432.0 C917.1,445.0 919.6,457.1 922.0,468.3 C924.4,479.5 926.2,490.5 929.2,499.3 C932.2,508.1 936.5,515.0 940.1,521.1 C943.8,527.2 946.6,530.2 951.1,535.7 C955.6,541.2 962.5,547.8 967.4,553.9 C972.2,560.0 976.2,567.5 980.2,572.1 C984.2,576.7 988.0,579.4 991.1,581.2 C994.2,583.0 993.9,584.0 998.6,583.0 C1003.4,582.0 1012.4,575.9 1019.6,575.5 C1026.8,575.1 1034.5,578.9 1041.9,580.5 C1049.3,582.1 1060.3,584.6 1064.0,585.4" stroke="#000080" stroke-width="6.5" fill="none" stroke-linejoin="round" stroke-linecap="butt"/>
<path d="M1099.5,589.1 C1106.4,591.2 1128.9,598.9 1141.0,601.5 C1153.1,604.1 1159.5,604.6 1171.9,604.6 C1184.3,604.6 1203.9,602.9 1215.2,601.5 C1226.5,600.1 1231.1,597.9 1240.0,596.0 C1248.9,594.1 1258.5,591.4 1268.6,590.0 C1278.7,588.6 1290.0,587.2 1300.7,587.4 C1311.4,587.6 1323.2,591.3 1332.9,591.3 C1342.6,591.3 1350.0,588.9 1358.6,587.4 C1367.2,585.9 1375.7,583.9 1384.3,582.3 C1392.9,580.7 1401.4,578.2 1410.0,577.8 C1418.6,577.4 1427.1,578.7 1435.7,579.7 C1444.3,580.7 1455.0,583.2 1461.4,583.6 C1467.8,584.0 1470.1,584.4 1474.3,582.3 C1478.5,580.2 1481.4,574.7 1486.7,571.0 C1492.0,567.3 1499.7,565.5 1506.2,559.9 C1512.7,554.3 1519.2,545.0 1525.7,537.6 C1532.2,530.2 1538.2,521.8 1545.2,515.3 C1552.2,508.8 1559.5,503.2 1567.4,498.6 C1575.3,494.0 1586.0,488.4 1592.5,487.5 C1599.0,486.6 1601.3,489.3 1606.4,493.0 C1611.5,496.7 1617.5,505.2 1623.1,509.8 C1628.7,514.5 1633.8,518.4 1639.8,520.9 C1645.8,523.4 1653.3,525.6 1659.3,525.1 C1665.3,524.6 1670.4,522.1 1676.0,518.1 C1681.6,514.1 1686.4,507.0 1692.7,501.4 C1699.0,495.8 1708.1,489.6 1713.9,484.7 C1719.8,479.8 1723.2,474.8 1727.8,472.2 C1732.4,469.6 1736.7,469.4 1741.8,469.4 C1746.9,469.4 1752.9,471.3 1758.5,472.2 C1764.1,473.1 1770.1,472.9 1775.2,475.0 C1780.3,477.1 1784.0,480.8 1789.1,484.7 C1794.2,488.6 1799.8,494.4 1805.8,498.6 C1811.8,502.8 1818.3,505.2 1825.3,509.8 C1832.3,514.5 1840.6,522.3 1847.6,526.5 C1854.5,530.7 1860.5,532.5 1867.0,534.8 C1873.5,537.1 1880.9,537.1 1886.5,540.4 C1892.1,543.6 1895.3,548.7 1900.4,554.3 C1905.5,559.9 1912.6,569.2 1917.2,573.8 C1921.8,578.4 1924.4,582.2 1928.3,582.1 C1932.2,582.0 1936.8,575.8 1940.5,573.3 C1944.2,570.8 1946.3,568.5 1950.7,567.1 C1955.1,565.7 1961.3,565.1 1967.1,565.1 C1972.9,565.1 1979.7,566.2 1985.5,567.1 C1991.3,568.0 1997.4,568.5 2001.8,570.2 C2006.2,571.9 2009.0,575.9 2012.1,577.4 C2015.2,578.9 2017.2,581.4 2020.3,579.4 C2023.4,577.4 2026.8,571.6 2030.5,565.1 C2034.2,558.6 2038.0,549.4 2042.8,540.5 C2047.6,531.6 2054.0,518.7 2059.1,511.9 C2064.2,505.1 2068.7,501.3 2073.5,499.6 C2078.3,497.9 2082.7,499.3 2087.8,501.7 C2092.9,504.1 2099.0,510.5 2104.1,513.9 C2109.2,517.3 2114.2,519.4 2118.5,522.1 C2122.8,524.8 2127.8,528.9 2129.7,530.3" stroke="#000080" stroke-width="6.5" fill="none" stroke-linejoin="round" stroke-linecap="butt"/>

<g stroke="#1e1e1e" stroke-width="5" fill="none" stroke-linecap="square">
<path d="M33.5,50 H1063.5 M1103,50 H2130 V1586.5 H1103 M1061,1586.5 H33.5 V50"/>
</g>
<g stroke="#1e1e1e" stroke-width="4.5" fill="none">
<path d="M126.7,1586 V1570 M596.7,1586 V1556 M1212.9,1586 V1571 M1786.7,1586 V1556"/>
</g>
<g stroke="#000" stroke-width="5" stroke-linecap="round" fill="none">
<path d="M1045.7,80.5 L1082.4,20 M1081.9,80.5 L1117.1,20"/>
<path d="M1045.7,1617.1 L1082.1,1557.1 M1082.1,1617.1 L1116.4,1557.1"/>
</g>
<rect x="32.5" y="38" width="510.5" height="654.5" fill="#fefefe" stroke="#858585" stroke-width="4.5"/>
<line x1="33" y1="44" x2="33" y2="692" stroke="#4a4a4a" stroke-width="5.5"/>
<line x1="31" y1="693" x2="543" y2="693" stroke="#5c5c5c" stroke-width="4.5"/>
<line x1="745.5" y1="1743" x2="745" y2="1752" stroke="#888" stroke-width="2.5" stroke-linecap="round"/>
<line x1="109.5" y1="116.8" x2="270" y2="116.8" stroke="#000080" stroke-width="8.5" stroke-linecap="round"/>
<line x1="109.5" y1="205.8" x2="270" y2="205.8" stroke="#808000" stroke-width="8.5" stroke-linecap="round"/>
<line x1="109.5" y1="294.8" x2="270" y2="294.8" stroke="#ff00ff" stroke-width="8.5" stroke-linecap="round"/>
<line x1="109.5" y1="383.8" x2="270" y2="383.8" stroke="#008080" stroke-width="8.5" stroke-linecap="round"/>
<line x1="109.5" y1="472.8" x2="270" y2="472.8" stroke="#0000ff" stroke-width="8.5" stroke-linecap="round"/>
<line x1="109.5" y1="561.8" x2="270" y2="561.8" stroke="#ff0000" stroke-width="8.5" stroke-linecap="round"/>
<line x1="109.5" y1="650.8" x2="270" y2="650.8" stroke="#000000" stroke-width="8.5" stroke-linecap="round"/>
<text x="312.2" y="139.4" style="font-size:81.4px;fill:#111;" textLength="201.5" lengthAdjust="spacingAndGlyphs">250R3</text>
<text x="312.2" y="228.1" style="font-size:81.4px;fill:#111;" textLength="201.5" lengthAdjust="spacingAndGlyphs">250R2</text>
<text x="312.2" y="316.7" style="font-size:81.4px;fill:#111;" textLength="201.5" lengthAdjust="spacingAndGlyphs">250R1</text>
<text x="312.2" y="405.4" style="font-size:81.4px;fill:#111;" textLength="201.5" lengthAdjust="spacingAndGlyphs">200R3</text>
<text x="312.2" y="494.0" style="font-size:81.4px;fill:#111;" textLength="201.5" lengthAdjust="spacingAndGlyphs">200R2</text>
<text x="312.2" y="582.6" style="font-size:81.4px;fill:#111;" textLength="201.5" lengthAdjust="spacingAndGlyphs">200R1</text>
<text x="315.1" y="671.3" style="font-size:81.4px;fill:#111;" textLength="104.9" lengthAdjust="spacingAndGlyphs">UR</text>
<text x="977.6" y="423.6" style="font-size:68.7px;font-weight:bold;fill:#111;" textLength="219.5" lengthAdjust="spacingAndGlyphs">Treated</text>
<text x="977.9" y="500.0" style="font-size:68.7px;font-weight:bold;fill:#111;" textLength="165.2" lengthAdjust="spacingAndGlyphs">at 250</text>
<text x="1157.7" y="479.0" style="font-size:40.0px;font-weight:bold;fill:#111;" textLength="21.0" lengthAdjust="spacingAndGlyphs">o</text>
<text x="1180.9" y="500.0" style="font-size:68.7px;font-weight:bold;fill:#111;" textLength="50.9" lengthAdjust="spacingAndGlyphs">C</text>
<text x="974.8" y="835.8" style="font-size:68.7px;font-weight:bold;fill:#111;" textLength="219.2" lengthAdjust="spacingAndGlyphs">Treated</text>
<text x="975.4" y="911.7" style="font-size:68.7px;font-weight:bold;fill:#111;" textLength="166.2" lengthAdjust="spacingAndGlyphs">at 200</text>
<text x="1155.8" y="893.3" style="font-size:40.0px;font-weight:bold;fill:#111;" textLength="22.7" lengthAdjust="spacingAndGlyphs">o</text>
<text x="1178.3" y="911.7" style="font-size:68.7px;font-weight:bold;fill:#111;" textLength="50.3" lengthAdjust="spacingAndGlyphs">C</text>
<text x="976.9" y="1290.0" style="font-size:71.0px;font-weight:bold;fill:#111;" textLength="291.8" lengthAdjust="spacingAndGlyphs">Untreated</text>
<text x="974.9" y="1365.2" style="font-size:71.0px;font-weight:bold;fill:#111;" textLength="201.3" lengthAdjust="spacingAndGlyphs">rubber</text>
<text x="969.7" y="201.3" style="font-size:105.0px;font-weight:bold;fill:#ff0000;" textLength="56.1" lengthAdjust="spacingAndGlyphs">1</text>
<text x="1390.0" y="187.4" style="font-size:101.7px;font-weight:bold;fill:#ff0000;" textLength="55.3" lengthAdjust="spacingAndGlyphs">2</text>
<text x="1262.5" y="780.5" style="font-size:99.2px;font-weight:bold;fill:#ff0000;" textLength="55.2" lengthAdjust="spacingAndGlyphs">2</text>
<text x="1282.4" y="1221.4" style="font-size:100.6px;font-weight:bold;fill:#ff0000;" textLength="54.2" lengthAdjust="spacingAndGlyphs">2</text>
<text x="531.8" y="1688.0" style="font-size:69.6px;fill:#2a2a2a;" textLength="133.7" lengthAdjust="spacingAndGlyphs">3000</text>
<text x="1732.1" y="1680.0" style="font-size:71.0px;fill:#2a2a2a;" textLength="133.4" lengthAdjust="spacingAndGlyphs">1000</text>
<text x="858.0" y="1784.8" style="font-size:75.7px;fill:#1a1a1a;" textLength="417.9" lengthAdjust="spacingAndGlyphs">Wavenumber</text>
<text x="1293.4" y="1784.8" style="font-size:75.7px;fill:#1a1a1a;" textLength="117.8" lengthAdjust="spacingAndGlyphs">(cm</text>
<text x="1413.8" y="1762.7" style="font-size:46.5px;fill:#1a1a1a;" textLength="37.2" lengthAdjust="spacingAndGlyphs">-1</text>
<text x="1453.4" y="1784.8" style="font-size:75.7px;fill:#1a1a1a;" textLength="21.4" lengthAdjust="spacingAndGlyphs">)</text>
</svg>
</body></html>
